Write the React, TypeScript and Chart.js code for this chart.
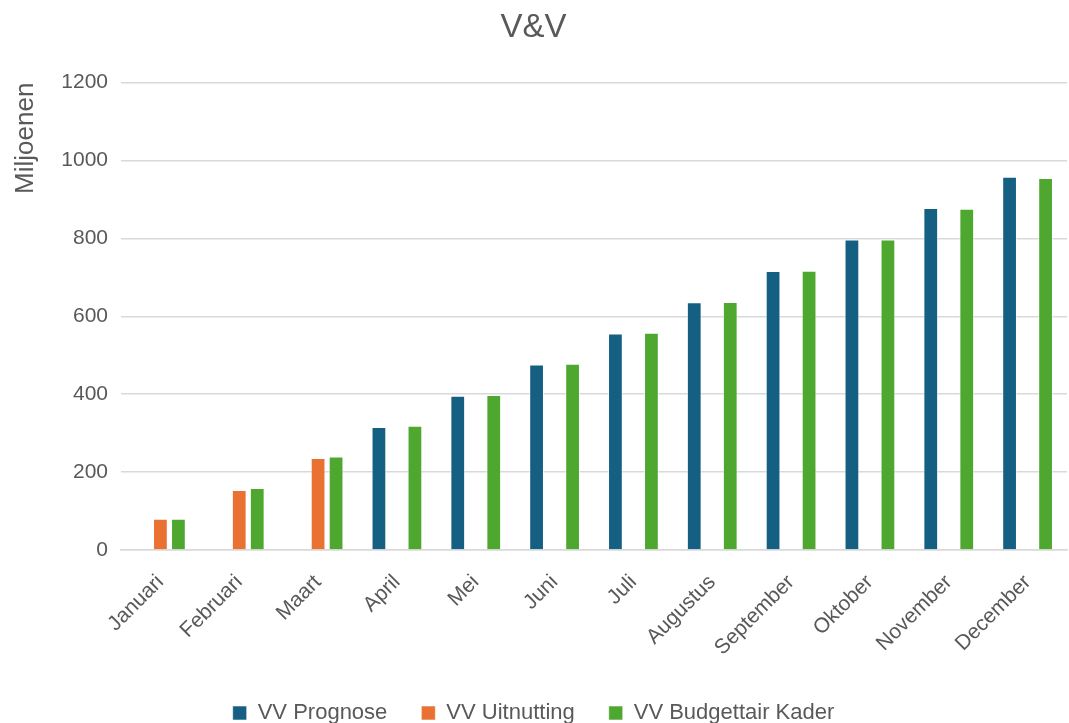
import React, { useEffect, useRef } from "react";
import { Chart, registerables } from "chart.js";

Chart.register(...registerables);

const categories = [
  "Januari", "Februari", "Maart", "April", "Mei", "Juni",
  "Juli", "Augustus", "September", "Oktober", "November", "December",
];
const prognose = [null, null, null, 316, 396, 476, 556, 636, 716, 797, 878, 958];
const uitnutting = [80, 154, 236, null, null, null, null, null, null, null, null, null];
const kader = [80, 159, 240, 319, 398, 478, 558, 637, 717, 797, 876, 955];
const yTicks = [0, 200, 400, 600, 800, 1000, 1200];

const TEXT = "#595959";
const FONT = "'Liberation Sans', Arial, sans-serif";

export default function App() {
  const ref = useRef<HTMLCanvasElement>(null);
  useEffect(() => {
    if (!ref.current) return;
    const border = "rgba(255,255,255,0.55)";
    const chart = new Chart(ref.current, {
      type: "bar",
      data: {
        labels: categories,
        datasets: [
          { label: "VV Prognose", data: prognose, backgroundColor: "#156082", borderColor: border, borderWidth: 1 },
          { label: "VV Uitnutting", data: uitnutting, backgroundColor: "#E97132", borderColor: border, borderWidth: 1 },
          { label: "VV Budgettair Kader", data: kader, backgroundColor: "#4EA72E", borderColor: border, borderWidth: 1 },
        ],
      },
      options: {
        animation: false,
        responsive: false,
        maintainAspectRatio: false,
        layout: { padding: { left: 0, right: 2, top: 0, bottom: -11 } },
        datasets: { bar: { categoryPercentage: 0.685, barPercentage: 0.82 } },
        plugins: {
          title: {
            display: true,
            text: "V&V",
            color: TEXT,
            font: { family: FONT, size: 33, weight: "normal" },
            padding: { top: 8, bottom: 35 },
          },
          legend: {
            position: "bottom",
            labels: {
              color: TEXT,
              font: { family: FONT, size: 22 },
              boxWidth: 14,
              boxHeight: 14,
              padding: 34,
            },
          },
          tooltip: { enabled: false },
        },
        scales: {
          x: {
            grid: { display: false },
            border: { display: true, color: "#D9D9D9", width: 1.5 },
            ticks: {
              color: TEXT,
              font: { family: FONT, size: 21 },
              maxRotation: 45,
              minRotation: 45,
              autoSkip: false,
              padding: 12,
            },
            afterFit: (s: any) => { s.height = 118; },
          },
          y: {
            min: 0,
            max: 1200,
            afterBuildTicks: (s: any) => { s.ticks = yTicks.map((v) => ({ value: v })); },
            grid: { color: "#D9D9D9", lineWidth: 1.5, drawTicks: false },
            border: { display: false },
            ticks: {
              color: TEXT,
              font: { family: FONT, size: 21 },
              padding: 13,
              callback: (v: any) => String(v),
            },
            title: {
              display: true,
              text: "Miljoenen",
              align: "end",
              color: TEXT,
              font: { family: FONT, size: 26 },
              padding: { top: 10, bottom: 0 },
            },
            afterFit: (s: any) => { s.width = 121; },
          },
        },
      },
    });
    return () => chart.destroy();
  }, []);
  return (
    <div style={{ position: "fixed", left: 0, top: 0, width: 1069, height: 723, background: "#fff" }}>
      <canvas ref={ref} width={1069} height={723} />
    </div>
  );
}
